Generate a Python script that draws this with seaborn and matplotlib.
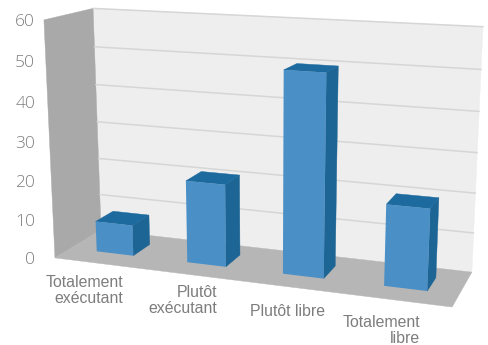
import numpy as np
import pandas as pd
import matplotlib
matplotlib.use("Agg")
import matplotlib.pyplot as plt
from matplotlib.patches import Polygon
from matplotlib.transforms import Affine2D, Transform
import seaborn as sns

# Survey answers and their shares in percent
categories = ["Totalement\nexécutant", "Plutôt\nexécutant", "Plutôt libre", "Totalement\nlibre"]
values = [8, 21, 50, 20]
axis_ticks = [0, 10, 20, 30, 40, 50, 60]

W, H = 489, 345
BAR_WIDTH = 0.41
BAR_FRONT, BAR_BACK = 0.33, 0.72

# Hand placement of the category labels, in pixels from the floor's front edge
label_dx = [23, 24, 33, 23]
label_dy = [12, 10, 17, 15]

FRONT_BLUE = "#4a8fc6"
SIDE_BLUE = "#1c6595"
TOP_BLUE = "#1d6a9e"
LEFT_WALL = "#a9a9a9"
FLOOR = "#b6b6b6"
BACK_WALL = "#eeeeee"
GRID = "#d6d6d6"
TEXT = "#7d7d7d"

# Camera calibration: box corners (category axis, depth, value) and where they land in pixels
box = [(-0.5, 0, 0), (-0.5, 0, 60), (-0.5, 1, 0), (-0.5, 1, 60), (3.5, 1, 0), (3.5, 1, 60), (3.5, 0, 0)]
px = [(55, 256), (44, 20), (101, 232), (93, 8), (472, 270), (483, 27), (452, 309)]

rows, rhs = [], []
for (x, d, v), (u, w) in zip(box, px):
    rows.append([x, d, v, 1, 0, 0, 0, 0, -u * x, -u * d, -u * v])
    rows.append([0, 0, 0, 0, x, d, v, 1, -w * x, -w * d, -w * v])
    rhs += [u, w]
cam = np.append(np.linalg.lstsq(np.array(rows, float), np.array(rhs, float), rcond=None)[0], 1).reshape(3, 4)


def project(x, d, v):
    h = cam @ np.array([x, d, v, 1.0])
    return h[:2] / h[2]


class DepthPlane(Transform):
    """Maps (category, value) on a plane of constant depth to pixel positions."""
    input_dims = output_dims = 2

    def __init__(self, plane_depth):
        super().__init__()
        self.plane_depth = plane_depth

    def transform_non_affine(self, values):
        return np.array([project(x, self.plane_depth, v) for x, v in np.asarray(values)])


sns.set_theme(style="white")
plt.rcParams["font.family"] = ["Liberation Sans Narrow", "Liberation Sans"]

fig = plt.figure(figsize=(W / 100, H / 100), dpi=100, facecolor="white")
ax = fig.add_axes([0, 0, 1, 1])
to_fig = Affine2D().scale(1 / W, -1 / H).translate(0, 1) + fig.transFigure


def face(corners, color, z):
    ax.add_patch(Polygon([project(*c) for c in corners], closed=True, facecolor=color,
                         edgecolor=color, linewidth=0.3, transform=to_fig, clip_on=False, zorder=z))


# The three walls of the box
x0, x1, top = -0.5, 3.5, axis_ticks[-1]
face([(x0, 1, 0), (x1, 1, 0), (x1, 1, top), (x0, 1, top)], BACK_WALL, 1)
face([(x0, 0, 0), (x0, 1, 0), (x0, 1, top), (x0, 0, top)], LEFT_WALL, 1)
face([(x0, 0, 0), (x1, 0, 0), (x1, 1, 0), (x0, 1, 0)], FLOOR, 1)

for t in axis_ticks[1:]:
    pts = np.array([project(x0, 1, t), project(x1, 1, t)])
    ax.plot(pts[:, 0], pts[:, 1], color=GRID, lw=1.1, transform=to_fig, clip_on=False, zorder=2)

# Front faces come from seaborn, then get placed on the plane of the bar fronts
df = pd.DataFrame({"reponse": categories, "part": values})
sns.barplot(data=df, x="reponse", y="part", color=FRONT_BLUE, saturation=1, width=BAR_WIDTH, ax=ax, zorder=5)
front_plane = DepthPlane(BAR_FRONT) + to_fig
for bar in ax.containers[0]:
    bar.set_transform(front_plane)
    bar.set_clip_on(False)
    bar.set_linewidth(0)
    left, right, v = bar.get_x(), bar.get_x() + bar.get_width(), bar.get_height()
    face([(right, BAR_FRONT, 0), (right, BAR_BACK, 0), (right, BAR_BACK, v), (right, BAR_FRONT, v)], SIDE_BLUE, 4)
    face([(left, BAR_FRONT, v), (right, BAR_FRONT, v), (right, BAR_BACK, v), (left, BAR_BACK, v)], TOP_BLUE, 4)

# Value labels sit beside the front edge of the left wall
for t in axis_ticks:
    _, y = project(x0, 0, t)
    ax.text(35, y + 2, str(t), ha="right", va="center", fontsize=12.5, color=TEXT,
            family=["Open Sans"], fontweight="light", transform=to_fig)

# Category labels hang below the front edge of the floor
for i, name in enumerate(categories):
    fx, fy = project(i, 0, 0)
    ax.text(fx + label_dx[i], fy + label_dy[i], name, ha="right", va="top", fontsize=11.4, color=TEXT,
            linespacing=1.05, transform=to_fig)

ax.set_axis_off()
fig.savefig("out.png", dpi=100)
